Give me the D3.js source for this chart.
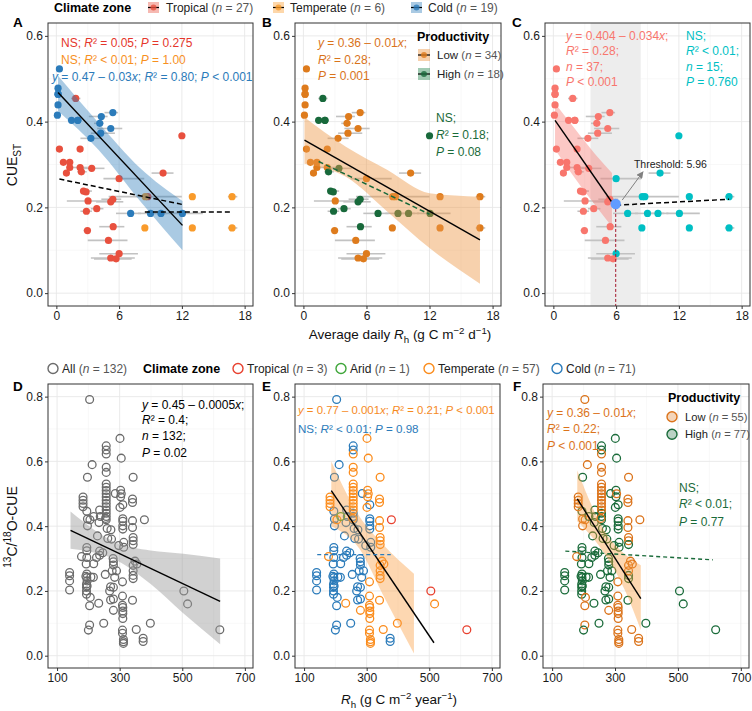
<!DOCTYPE html>
<html>
<head>
<meta charset="utf-8">
<script src="https://cdn.jsdelivr.net/npm/d3@7"></script>
<style>
  body { margin: 0; background: #fff; }
  svg { font-family: "Liberation Sans", Arial, Helvetica, sans-serif; }
</style>
</head>
<body>
<div id="chart"></div>
<script>

// ---- Top row (A-C): daily Rh vs CUE_ST, 52 sites ----
// zone: T tropical, M temperate, C cold ; prod: L low, H high
const topZone = [
    "C","C","C","C","C","C","C","C","C","C","C","C","C","C","C","C","C","C","C",
    "T","T","T","T","T","T","T","T","T","T","T","T","T","T","T","T","T","T","T","T","T","T","T","T","T","T","T",
    "M","M","M","M","M","M"]
const topRh = [
    0.29,0.16,0.16,0.16,0.10,1.45,2.05,4.30,5.40,4.15,5.20,4.24,3.30,7.10,9.00,10.00,12.05,0.16,2.05,
    1.85,0.29,2.27,0.67,1.28,1.28,0.96,2.27,2.39,3.38,6.00,10.2,12.0,2.59,2.84,3.03,5.20,5.40,2.87,3.86,8.75,2.97,5.43,4.98,6.00,5.20,5.71,
    8.50,13.0,16.8,8.46,13.0,16.8]
const topCue = [
    0.523,0.478,0.464,0.439,0.415,0.403,0.403,0.412,0.421,0.396,0.384,0.373,0.361,0.186,0.186,0.186,0.186,0.464,0.403,
    0.454,0.336,0.336,0.305,0.305,0.293,0.280,0.293,0.283,0.291,0.267,0.280,0.367,0.238,0.236,0.215,0.213,0.219,0.191,0.197,0.225,0.146,0.155,0.123,0.092,0.082,0.080,
    0.225,0.225,0.225,0.152,0.152,0.152]
const topLo = [
    null,null,null,null,null,null,null,3.1,4.6,3.6,3.9,3.3,2.3,5.7,7.8,9.3,10.8,null,null,
    1.4,null,null,null,null,null,null,1.6,2.0,2.4,4.5,9.1,null,2.3,null,1.0,3.8,4.3,2.3,3.3,5.0,2.6,4.1,3.0,4.1,3.3,3.6,
    null,null,16.4,null,null,16.4]
const topHi = [
    null,null,null,null,null,null,null,4.9,5.9,4.5,6.3,5.6,4.3,8.1,10.6,11.0,14.0,null,null,
    2.3,null,null,null,null,null,null,3.0,2.9,4.6,8.4,11.2,null,3.4,null,5.3,6.4,6.2,3.4,4.5,12.0,3.3,6.5,6.8,7.8,7.5,7.2,
    null,null,17.3,null,null,17.3]
const topProd = [
    "L","L","L","L","L","H","H","L","L","L","L","L","L","H","H","H","H","L","H",
    "H","L","L","L","L","L","L","L","H","H","L","L","H","H","H","L","H","H","H","H","L","L","H","L","L","L","L",
    "L","L","L","L","L","L"]

// fitted lines [x0, y0, x1, y1] and bands [x, lo, hi]
const lineA_cold = [0.16, 0.468, 12.06, 0.158]
const lineA_trop = [0.29, 0.266, 12.0, 0.207]
const lineA_temp = [8.46, 0.189, 16.8, 0.189]
const bandA_cold = [[0.16, 0.425, 0.507], [4, 0.335, 0.398], [8, 0.215, 0.292], [12.06, 0.10, 0.215]]
const lineB_low = [0.1, 0.357, 16.8, 0.124]
const lineB_high = [1.45, 0.307, 12.0, 0.184]
const bandB_low = [[0.1, 0.302, 0.41], [4, 0.272, 0.342], [8, 0.19, 0.287], [12, 0.105, 0.233], [16.8, 0.022, 0.225]]
const lineC_left = [0.16, 0.403, 5.6, 0.212]
const lineC_right = [6.0, 0.205, 16.8, 0.219]
const bandC_left = [[0.16, 0.335, 0.443], [2, 0.27, 0.385], [4, 0.205, 0.324], [5.6, 0.155, 0.28]]
const threshold = 5.96
const thresholdCue = 0.208
const thresholdBand = [3.55, 8.35]

// ---- Bottom row (D-F): annual Rh vs 13C/18O-CUE, 132 sites ----
const botZone = [
    "C","C","C","C","C","C","C","C","C","C","C","C","C","C","C","C","C","C","C","C",
    "C","C","C","C","C","C","C","C","C","C","C","C","C","C","C","C","C","C","C","C",
    "C","C","C","C","C","C","C","C","C","C","C","C","C","C","C","C","C","C","C","C",
    "C","C","C","C","C","C","C","C","C","C","C",
    "M","M","M","M","M","M","M","M","M","M","M","M","M","M","M","M","M","M","M","M",
    "M","M","M","M","M","M","M","M","M","M","M","M","M","M","M","M","M","M","M","M",
    "M","M","M","M","M","M","M","M","M","M","M","M","M","M","M","M","M",
    "T","T","T","A"]
const botRh = [
    140,140,140,140,204,197,195,197,197,195,195,195,193,195,195,196,194,194,194,194,
    204,204,200,212,208,217,229,236,238,234,236,236,249,254,257,257,257,257,257,260,
    262,272,274,286,271,280,271,280,290,284,279,280,280,297,313,310,310,310,310,310,
    375,375,313,206,216,192,196,276,268,226,246,
    178,183,183,183,183,257,257,257,257,257,257,257,257,257,257,257,257,301,305,303,
    303,301,343,341,341,341,341,343,343,343,349,343,343,343,341,309,309,309,310,310,
    310,310,309,309,312,312,312,353,398,517,233,280,355,343,255,305,205,
    379,505,620,217]
const botCue = [
    0.257,0.247,0.231,0.203,0.791,0.551,0.446,0.422,0.401,0.334,0.324,0.303,0.283,0.252,0.241,0.231,0.221,0.211,0.200,0.190,
    0.154,0.095,0.079,0.590,0.243,0.284,0.370,0.450,0.430,0.411,0.323,0.310,0.100,0.251,0.648,0.635,0.440,0.430,0.420,0.393,
    0.362,0.389,0.360,0.501,0.213,0.211,0.172,0.175,0.262,0.242,0.300,0.290,0.280,0.340,0.335,0.466,0.423,0.415,0.401,0.391,
    0.054,0.044,0.350,0.180,0.242,0.245,0.215,0.262,0.200,0.303,0.318,
    0.306,0.490,0.480,0.470,0.460,0.623,0.582,0.566,0.530,0.520,0.510,0.500,0.490,0.480,0.470,0.460,0.450,0.671,0.610,0.511,
    0.491,0.458,0.551,0.484,0.473,0.417,0.396,0.365,0.355,0.343,0.292,0.279,0.248,0.238,0.171,0.228,0.184,0.156,0.149,0.138,
    0.130,0.115,0.079,0.069,0.050,0.043,0.038,0.081,0.100,0.160,0.162,0.140,0.283,0.262,0.424,0.500,0.420,
    0.420,0.200,0.080,0.430]
const botProd = [
    "H","H","H","H","L","H","H","L","L","H","H","H","H","H","H","H","H","H","H","H",
    "L","L","H","L","H","H","H","H","H","H","H","H","H","H","H","H","H","H","H","H",
    "H","H","H","H","H","H","H","H","H","H","H","H","H","H","H","H","H","H","H","H",
    "L","L","H","L","H","H","H","H","H","H","H",
    "L","L","L","L","L","L","L","L","L","L","L","L","L","L","L","L","L","H","H","H",
    "H","H","L","L","L","L","L","L","L","H","L","L","H","H","H","L","L","L","L","L",
    "L","L","L","L","L","L","L","L","H","H","H","L","L","L","L","L","L",
    "L","H","H","H"]

const lineD = [143, 0.387, 621, 0.168]
const bandD = [[143, 0.33, 0.445], [291, 0.294, 0.348], [398, 0.222, 0.325], [504, 0.13, 0.315], [621, 0.035, 0.30]]
const lineE_temp = [187, 0.51, 515, 0.04]
const lineE_cold = [142, 0.312, 377, 0.312]
const bandE_temp = [[187, 0.40, 0.60], [277, 0.33, 0.43], [351, 0.19, 0.345], [451, 0.007, 0.253]]
const lineF_low = [180, 0.484, 382, 0.176]
const lineF_high = [142, 0.323, 611, 0.296]
const bandF_low = [[180, 0.415, 0.572], [270, 0.31, 0.38], [330, 0.205, 0.315], [382, 0.079, 0.279]]

const topXTicks = [0, 6, 12, 18], topXMinor = [3, 9, 15]
const topYTicks = [0, 0.2, 0.4, 0.6], topYMinor = [0.1, 0.3, 0.5]
const botXTicks = [100, 300, 500, 700], botXMinor = [200, 400, 600]
const botYTicks = [0, 0.2, 0.4, 0.6, 0.8], botYMinor = [0.1, 0.3, 0.5, 0.7]

// ---- colours ----
const zoneTop = {T: "#E8503E", M: "#F99B2B", C: "#2B7BBA"}
const prodTop = {L: "#DE7B1C", H: "#18693B"}
const zoneBot = {T: "#E8412F", A: "#3FA63A", M: "#FB8C1C", C: "#2B7BBA"}
const prodBot = {L: "#DB731A", H: "#1A6B3A"}

const svg = d3.select("#chart").append("svg")
    .attr("width", 752)
    .attr("height", 711)

// text with italic / sub / superscript parts
function rich(g, x, y, parts, opt = {}) {
    const size = opt.size || 12
    const t = g.append("text")
        .attr("x", x).attr("y", y)
        .attr("font-size", size)
        .attr("fill", opt.color || "#000")
    if (opt.anchor) t.attr("text-anchor", opt.anchor)
    if (opt.weight) t.attr("font-weight", opt.weight)
    if (opt.rotate) t.attr("transform", `rotate(-90,${x},${y})`)
    let cur = 0
    parts.forEach(p => {
        const [str, st, col] = typeof p === "string" ? [p, "", null] : p
        const s = t.append("tspan").text(str)
        let target = 0
        if (st.includes("sub")) { target = size * 0.3; s.attr("font-size", size * 0.72) }
        if (st.includes("sup")) { target = -size * 0.4; s.attr("font-size", size * 0.72) }
        if (st.includes("i")) s.attr("font-style", "italic")
        if (col) s.attr("fill", col)
        if (target !== cur) { s.attr("dy", target - cur); cur = target }
    })
    return t
}

function makePanel(cols, rows, xDom, yDom, xTicks, xMinor, yTicks, yMinor) {
    const [x0, x1] = cols, [y0, y1] = rows
    const x = d3.scaleLinear().domain(xDom).range([x0, x1])
    const y = d3.scaleLinear().domain(yDom).range([y1, y0])
    const g = svg.append("g")

    g.append("rect")
        .attr("x", x0).attr("y", y0)
        .attr("width", x1 - x0).attr("height", y1 - y0)
        .attr("fill", "white")

    const grid = g.append("g")
    const vline = (vals, col, w) => grid.append("g").selectAll("line").data(vals).join("line")
        .attr("x1", d => x(d)).attr("x2", d => x(d)).attr("y1", y0).attr("y2", y1)
        .attr("stroke", col).attr("stroke-width", w)
    const hline = (vals, col, w) => grid.append("g").selectAll("line").data(vals).join("line")
        .attr("y1", d => y(d)).attr("y2", d => y(d)).attr("x1", x0).attr("x2", x1)
        .attr("stroke", col).attr("stroke-width", w)
    vline(xMinor, "#f4f4f4", 0.6)
    hline(yMinor, "#f4f4f4", 0.6)
    vline(xTicks, "#e8e8e8", 0.9)
    hline(yTicks, "#e8e8e8", 0.9)

    const body = g.append("g")

    g.append("rect")
        .attr("x", x0).attr("y", y0)
        .attr("width", x1 - x0).attr("height", y1 - y0)
        .attr("fill", "none").attr("stroke", "#333").attr("stroke-width", 1)

    const ax = g.append("g").attr("transform", `translate(0,${y1})`)
        .call(d3.axisBottom(x).tickValues(xTicks).tickSize(3).tickPadding(2))
    const ay = g.append("g").attr("transform", `translate(${x0},0)`)
        .call(d3.axisLeft(y).tickValues(yTicks).tickFormat(d3.format(".1f")).tickSize(3).tickPadding(2))
    for (const a of [ax, ay]) {
        a.select(".domain").remove()
        a.selectAll("line").attr("stroke", "#333")
        a.selectAll("text").attr("font-size", 12).attr("fill", "#1a1a1a")
            .attr("font-family", "Liberation Sans, Arial, sans-serif")
    }
    return {x, y, body}
}

function fitLine(p, l, col, dash, w) {
    p.body.append("line")
        .attr("x1", p.x(l[0])).attr("y1", p.y(l[1]))
        .attr("x2", p.x(l[2])).attr("y2", p.y(l[3]))
        .attr("stroke", col).attr("stroke-width", w || 1.4)
        .attr("stroke-dasharray", dash || null)
}

function band(p, b, col, op) {
    const area = d3.area()
        .x(d => p.x(d[0])).y0(d => p.y(d[1])).y1(d => p.y(d[2]))
        .curve(d3.curveMonotoneX)
    p.body.append("path").attr("d", area(b)).attr("fill", col).attr("fill-opacity", op)
}

const idxTop = d3.range(topRh.length)
const idxBot = d3.range(botRh.length)

function errorBars(p) {
    p.body.append("g").selectAll("line")
        .data(idxTop.filter(i => topLo[i] !== null))
        .join("line")
        .attr("x1", i => p.x(topLo[i])).attr("x2", i => p.x(topHi[i]))
        .attr("y1", i => p.y(topCue[i])).attr("y2", i => p.y(topCue[i]))
        .attr("stroke", "#c2c2c2").attr("stroke-width", 1.6)
}

function dots(p, colour) {
    p.body.append("g").selectAll("circle")
        .data(idxTop)
        .join("circle")
        .attr("cx", i => p.x(topRh[i])).attr("cy", i => p.y(topCue[i]))
        .attr("r", 3.6)
        .attr("fill", colour)
}

function rings(p, colour) {
    p.body.append("g").selectAll("circle")
        .data(idxBot)
        .join("circle")
        .attr("cx", i => p.x(botRh[i])).attr("cy", i => p.y(botCue[i]))
        .attr("r", 3.9)
        .attr("fill", "none")
        .attr("stroke", colour)
        .attr("stroke-width", 1.3)
}

const topRows = [23, 306], botRows = [384, 668]
const topXDom = [-0.8, 18.8], topYDom = [-0.03, 0.63]
const botXDom = [71, 726], botYDom = [-0.038, 0.839]

// ---- A ----
const pA = makePanel([48, 253], topRows, topXDom, topYDom, topXTicks, topXMinor, topYTicks, topYMinor)
errorBars(pA)
dots(pA, i => zoneTop[topZone[i]])
band(pA, bandA_cold, "#2B7BBA", 0.4)
fitLine(pA, lineA_cold, "#000")
fitLine(pA, lineA_trop, "#000", "5,3", 1.5)
fitLine(pA, lineA_temp, "#000", "5,3", 1.5)
rich(svg, 61, 47, ["NS; ", ["R", "i"], "² = 0.05; ", ["P", "i"], " = 0.275"], {color: "#E5362C"})
rich(svg, 61, 64, ["NS; ", ["R", "i"], "² < 0.01; ", ["P", "i"], " = 1.00"], {color: "#F7901E"})
rich(svg, 52, 81, [["y", "i"], " = 0.47 – 0.03", ["x", "i"], "; ", ["R", "i"], "² = 0.80; ", ["P", "i"], " < 0.001"], {color: "#2B7BBA"})

// ---- B ----
const pB = makePanel([295, 501], topRows, topXDom, topYDom, topXTicks, topXMinor, topYTicks, topYMinor)
errorBars(pB)
dots(pB, i => prodTop[topProd[i]])
band(pB, bandB_low, "#EE9A4A", 0.45)
fitLine(pB, lineB_low, "#000")
fitLine(pB, lineB_high, "#18693B", "5,3", 1.5)
rich(svg, 318, 47, [["y", "i"], " = 0.36 – 0.01", ["x", "i"], ";"], {color: "#D9731A"})
rich(svg, 318, 64, [["R", "i"], "² = 0.28;"], {color: "#D9731A"})
rich(svg, 318, 80, [["P", "i"], " = 0.001"], {color: "#D9731A"})
rich(svg, 436, 122, ["NS;"], {color: "#1A6B3A"})
rich(svg, 436, 139, [["R", "i"], "² = 0.18;"], {color: "#1A6B3A"})
rich(svg, 436, 156, [["P", "i"], " = 0.08"], {color: "#1A6B3A"})

// ---- C ----
const pC = makePanel([545, 750], topRows, topXDom, topYDom, topXTicks, topXMinor, topYTicks, topYMinor)
pC.body.append("rect")
    .attr("x", pC.x(thresholdBand[0])).attr("width", pC.x(thresholdBand[1]) - pC.x(thresholdBand[0]))
    .attr("y", topRows[0]).attr("height", topRows[1] - topRows[0])
    .attr("fill", "#ededed")
errorBars(pC)
dots(pC, i => topRh[i] > threshold ? "#00BFC4" : "#F8766D")
band(pC, bandC_left, "#F8766D", 0.4)
fitLine(pC, lineC_left, "#000")
fitLine(pC, lineC_right, "#000", "5,3", 1.5)
pC.body.append("line")
    .attr("x1", pC.x(threshold)).attr("x2", pC.x(threshold))
    .attr("y1", pC.y(thresholdCue)).attr("y2", topRows[1])
    .attr("stroke", "#A3172B").attr("stroke-width", 1).attr("stroke-dasharray", "3,2")
pC.body.append("circle")
    .attr("cx", pC.x(threshold)).attr("cy", pC.y(thresholdCue)).attr("r", 5.2)
    .attr("fill", "#619CFF")

svg.append("defs").append("marker")
    .attr("id", "arrow").attr("viewBox", "0 0 10 10").attr("refX", 9).attr("refY", 5)
    .attr("markerWidth", 7).attr("markerHeight", 7).attr("orient", "auto")
    .append("path").attr("d", "M0,0 L10,5 L0,10 Z").attr("fill", "#808080")
pC.body.append("line")
    .attr("x1", pC.x(6.58)).attr("y1", pC.y(0.217))
    .attr("x2", pC.x(8.57)).attr("y2", pC.y(0.283))
    .attr("stroke", "#808080").attr("stroke-width", 1)
    .attr("marker-end", "url(#arrow)")
rich(pC.body, pC.x(7.7), pC.y(0.293), ["Threshold: 5.96"], {size: 10.5, color: "#222"})

const salmon = "#F8766D", cyan = "#00BFC4"
rich(svg, 566, 40, [["y", "i"], " = 0.404 – 0.034", ["x", "i"], ";"], {color: salmon})
rich(svg, 566, 55, [["R", "i"], "² = 0.28;"], {color: salmon})
rich(svg, 566, 71, [["n", "i"], " = 37;"], {color: salmon})
rich(svg, 566, 86, [["P", "i"], " < 0.001"], {color: salmon})
rich(svg, 686, 40, ["NS;"], {color: cyan})
rich(svg, 686, 55, [["R", "i"], "² < 0.01;"], {color: cyan})
rich(svg, 686, 71, [["n", "i"], " = 15;"], {color: cyan})
rich(svg, 686, 86, [["P", "i"], " = 0.760"], {color: cyan})

// ---- D ----
const pD = makePanel([48, 253], botRows, botXDom, botYDom, botXTicks, botXMinor, botYTicks, botYMinor)
rings(pD, "#6b6b6b")
band(pD, bandD, "#999999", 0.45)
fitLine(pD, lineD, "#000")
rich(svg, 142, 409, [["y", "i"], " = 0.45 – 0.0005", ["x", "i"], ";"])
rich(svg, 142, 424, [["R", "i"], "² = 0.4;"])
rich(svg, 142, 440, [["n", "i"], " = 132;"])
rich(svg, 142, 457, [["P", "i"], " = 0.02"])

// ---- E ----
const pE = makePanel([295, 500], botRows, botXDom, botYDom, botXTicks, botXMinor, botYTicks, botYMinor)
rings(pE, i => zoneBot[botZone[i]])
band(pE, bandE_temp, "#F99B3C", 0.4)
fitLine(pE, lineE_temp, "#000")
fitLine(pE, lineE_cold, "#2B7BBA", "4,3", 1.4)
rich(svg, 298, 414, [["y", "i"], " = 0.77 – 0.001", ["x", "i"], "; ", ["R", "i"], "² = 0.21; ", ["P", "i"], " < 0.001"], {color: "#F68A1E", size: 11.4})
rich(svg, 298, 433, ["NS; ", ["R", "i"], "² < 0.01; ", ["P", "i"], " = 0.98"], {color: "#2B7BBA", size: 11.6})

// ---- F ----
const pF = makePanel([543, 749], botRows, botXDom, botYDom, botXTicks, botXMinor, botYTicks, botYMinor)
rings(pF, i => prodBot[botProd[i]])
band(pF, bandF_low, "#F99B3C", 0.4)
fitLine(pF, lineF_low, "#000")
fitLine(pF, lineF_high, "#1A6B3A", "4,3", 1.4)
rich(svg, 547, 417, [["y", "i"], " = 0.36 – 0.01", ["x", "i"], ";"], {color: "#DB731A"})
rich(svg, 547, 433, [["R", "i"], "² = 0.22;"], {color: "#DB731A"})
rich(svg, 547, 450, [["P", "i"], " < 0.001"], {color: "#DB731A"})
rich(svg, 679, 492, ["NS;"], {color: "#1A6B3A"})
rich(svg, 679, 508, [["R", "i"], "² < 0.01;"], {color: "#1A6B3A"})
rich(svg, 679, 526, [["P", "i"], " = 0.77"], {color: "#1A6B3A"})

// ---- panel letters ----
const letters = [["A", 13, 27], ["B", 262, 27], ["C", 512, 27], ["D", 13, 391], ["E", 262, 391], ["F", 513, 391]]
letters.forEach(l => rich(svg, l[1], l[2], [l[0]], {size: 13.5, weight: "bold"}))

// ---- axis titles ----
rich(svg, 17, 165, ["CUE", ["ST", "sub"]], {size: 14, anchor: "middle", rotate: true, color: "#111"})
rich(svg, 400, 339, ["Average daily ", ["R", "i"], ["h", "sub"], " (g C m", ["−2", "sup"], " d", ["−1", "sup"], ")"], {size: 13.5, anchor: "middle", color: "#111"})
rich(svg, 17, 527, [["13", "sup"], "C/", ["18", "sup"], "O-CUE"], {size: 14, anchor: "middle", rotate: true, color: "#111"})
rich(svg, 399, 704, [["R", "i"], ["h", "sub"], " (g C m", ["−2", "sup"], " year", ["−1", "sup"], ")"], {size: 13.5, anchor: "middle", color: "#111"})

// ---- legends ----
const grey = "#555"
rich(svg, 54, 12, ["Climate  zone"], {size: 12.5, weight: "bold"})
const topKeys = [
    ["T", 148, 166, "Tropical", "27"],
    ["M", 273, 290, "Temperate", "6"],
    ["C", 411, 428, "Cold", "19"]]
topKeys.forEach(k => {
    const c = zoneTop[k[0]]
    svg.append("rect").attr("x", k[1]).attr("y", 2).attr("width", 11).attr("height", 11)
        .attr("fill", c).attr("fill-opacity", 0.4)
    svg.append("line").attr("x1", k[1]).attr("x2", k[1] + 11).attr("y1", 7.5).attr("y2", 7.5)
        .attr("stroke", "#000").attr("stroke-width", 1.2)
    svg.append("circle").attr("cx", k[1] + 5.5).attr("cy", 7.5).attr("r", 3).attr("fill", c).attr("fill-opacity", 0.8)
    rich(svg, k[2], 12, [k[3] + " ", ["(", "", grey], ["n", "i", grey], [" = " + k[4] + ")", "", grey]], {size: 12, color: "#222"})
})

rich(svg, 417, 41, ["Productivity"], {size: 12.5, weight: "bold"})
const prodKeysTop = [["L", 55, "Low", "34", "#EE9A4A"], ["H", 74, "High", "18", "#2E8B57"]]
prodKeysTop.forEach(k => {
    const c = prodTop[k[0]]
    svg.append("rect").attr("x", 418).attr("y", k[1] - 6).attr("width", 12).attr("height", 12)
        .attr("fill", k[4]).attr("fill-opacity", 0.45)
    svg.append("line").attr("x1", 418).attr("x2", 430).attr("y1", k[1]).attr("y2", k[1])
        .attr("stroke", "#000").attr("stroke-width", 1.2)
    svg.append("circle").attr("cx", 424).attr("cy", k[1]).attr("r", 3).attr("fill", c).attr("fill-opacity", 0.8)
    rich(svg, 437, k[1] + 4, [k[2] + " ", ["(", "", grey], ["n", "i", grey], [" = " + k[3] + ")", "", grey]], {size: 11.5, color: "#222"})
})

// bottom legend
const botKeys = [
    [53, "#6b6b6b", "All", "132"],
    [238, zoneBot.T, "Tropical", "3"],
    [341, zoneBot.A, "Arid", "1"],
    [429, zoneBot.M, "Temperate", "57"],
    [557, zoneBot.C, "Cold", "71"]]
botKeys.forEach(k => {
    svg.append("circle").attr("cx", k[0]).attr("cy", 368.5).attr("r", 5)
        .attr("fill", "none").attr("stroke", k[1]).attr("stroke-width", 1.4)
    rich(svg, k[0] + 9, 373, [k[2] + " ", ["(", "", grey], ["n", "i", grey], [" = " + k[3] + ")", "", grey]], {size: 12, color: "#222"})
})
rich(svg, 143, 373, ["Climate  zone"], {size: 12.5, weight: "bold"})

rich(svg, 668, 402, ["Productivity"], {size: 12.5, weight: "bold"})
const prodKeysBot = [["L", 416.7, "Low", "55"], ["H", 434.3, "High", "77"]]
prodKeysBot.forEach(k => {
    const c = prodBot[k[0]]
    svg.append("circle").attr("cx", 672).attr("cy", k[1]).attr("r", 5)
        .attr("fill", c).attr("fill-opacity", 0.3)
        .attr("stroke", c).attr("stroke-width", 1.4)
    rich(svg, 685, k[1] + 4, [k[2] + " ", ["(", "", grey], ["n", "i", grey], [" = " + k[3] + ")", "", grey]], {size: 11.2, color: "#222"})
})

</script>
</body>
</html>
